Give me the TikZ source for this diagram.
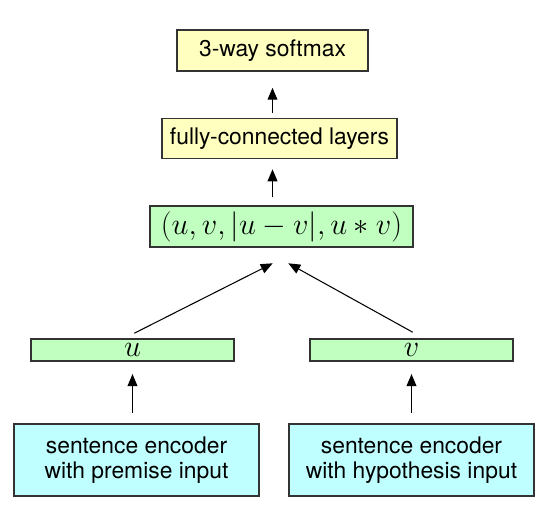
\documentclass[tikz,border=0pt]{standalone}
\usepackage{fontspec}
\setmainfont{TeX Gyre Heros}
\usepackage{amsmath}
\usetikzlibrary{arrows.meta}

\definecolor{softyellow}{RGB}{255,255,192}
\definecolor{softgreen}{RGB}{192,255,192}
\definecolor{softcyan}{RGB}{192,255,255}

\tikzset{
  layer/.style={draw=black!80,line width=0.9pt,inner sep=0pt,align=center,
    font=\fontsize{13}{14}\selectfont},
  vec/.style={layer,fill=softgreen,font=\fontsize{16.5}{18}\selectfont},
  arr/.style={-{Triangle[length=6.8pt,width=5.6pt]},line width=0.6pt}
}

\begin{document}
\begin{tikzpicture}[x=0.02cm,y=-0.02cm]
    \useasboundingbox (0,0) rectangle (550,514);
    % top of the network
    \node[layer,fill=softyellow,minimum width=3.82cm,minimum height=0.82cm](softmax) at (272.5,50.5){3-way softmax};
    \node[layer,fill=softyellow,minimum width=4.7cm,minimum height=0.8cm](fc) at (279.5,138.5){fully-connected layers};
    \node[vec,font=\fontsize{16}{18}\selectfont,minimum width=5.26cm,minimum height=0.82cm](feat) at (281.5,226.5){$(u,v,|u-v|,u*v)$};
    % sentence vectors
    \node[vec,minimum width=4.06cm,minimum height=0.44cm](u) at (132.5,350){$u$};
    \node[vec,minimum width=4.06cm,minimum height=0.44cm](v) at (411.5,350){$v$};
    % encoders
    \node[layer,fill=softcyan,minimum width=4.9cm,minimum height=1.44cm](encP) at (136.5,460){sentence encoder\\with premise input};
    \node[layer,fill=softcyan,minimum width=4.9cm,minimum height=1.44cm](encH) at (411.5,460){sentence encoder\\with hypothesis input};
    \coordinate (featL) at (272.7,263.3);
    \coordinate (featR) at (288.3,263.3);

    \draw[arr,shorten <=2.8pt,shorten >=9.1pt] (softmax.south |- fc.north) -- (softmax.south);
    \draw[arr,shorten <=4.5pt,shorten >=5.7pt] (softmax.south |- feat.north) -- (softmax.south |- fc.south);
    \draw[arr] (u.north) ++(1.8,-5) -- (featL);
    \draw[arr] (v.north) ++(1.2,-6) -- (featR);
    \draw[arr,shorten <=6pt,shorten >=7pt] (u.south |- encP.north) -- (u.south);
    \draw[arr,shorten <=6pt,shorten >=7pt] (v.south |- encH.north) -- (v.south);
\end{tikzpicture}
\end{document}
